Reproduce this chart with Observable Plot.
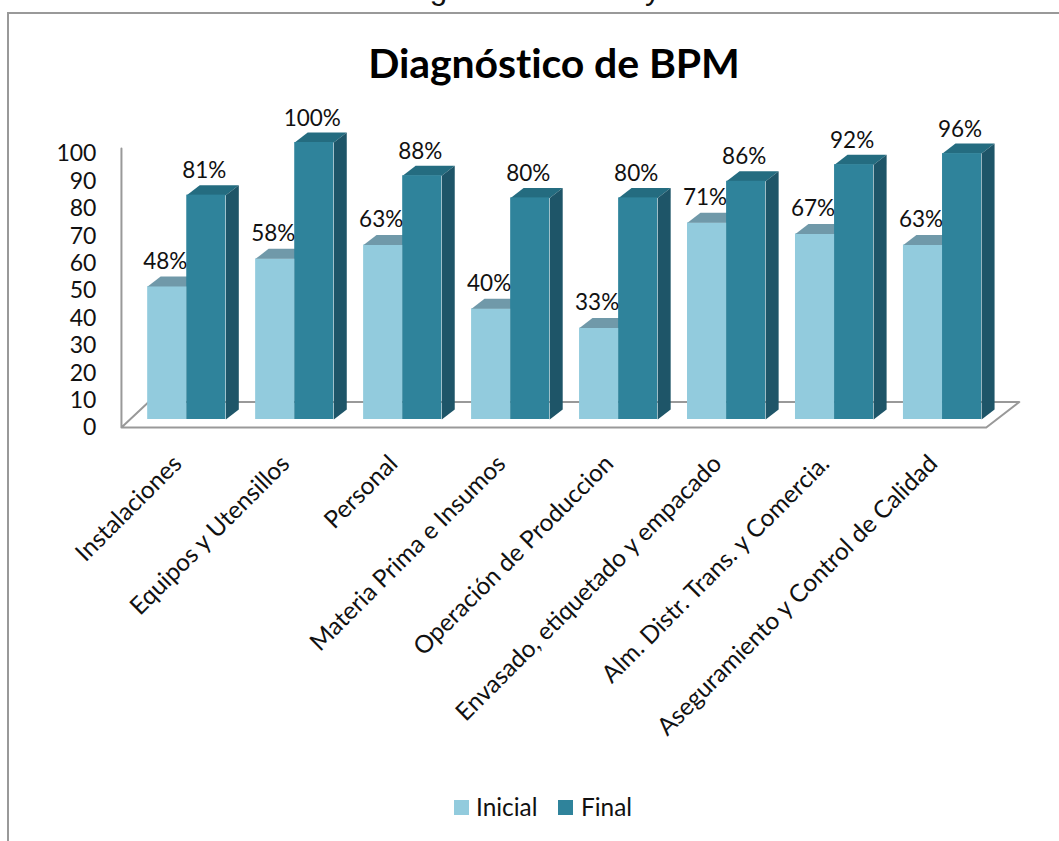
<!DOCTYPE html>
<html lang="es">
<head>
<meta charset="utf-8">
<title>Diagnóstico de BPM</title>
<style>
  html, body { margin: 0; background: #fff; overflow: hidden; }
  #page { position: relative; width: 1059px; height: 841px; overflow: hidden; font-family: Lato, sans-serif; color: #111; }
  #page svg { position: absolute; left: 0; top: 0; }
  #caption { position: absolute; left: 222px; top: -28px; font: 31.5px/32px "Liberation Sans", sans-serif; white-space: nowrap; }
  #caption span { margin-left: 38px; }
  #frame { position: absolute; left: 7px; top: 12px; right: -4px; bottom: -4px; border-left: 2.5px solid #999; border-top: 2.5px solid #999; }
  #title { position: absolute; left: 0; width: 1108px; top: 33px; text-align: center; font-size: 41px; line-height: 60px; font-weight: 700; letter-spacing: -0.1px; color: #000; }
  .key { position: absolute; top: 794px; font-size: 24.4px; line-height: 26px; }
  .key i { position: absolute; top: 6px; width: 15px; height: 15px; }
</style>
<script src="https://cdn.jsdelivr.net/npm/d3@7"></script>
<script src="https://cdn.jsdelivr.net/npm/@observablehq/plot@0.6"></script>
</head>
<body>
<div id="page">
  <div id="caption">Gráfico 11: Diagnóstico Inicial y <span>Final</span></div>
  <div id="frame"></div>
  <div id="title">Diagnóstico de BPM</div>
  <div id="chart"></div>
  <div class="key" style="left:476px"><i style="left:-22px;background:#92cbdd"></i>Inicial</div>
  <div class="key" style="left:581px"><i style="left:-23px;background:#2f839b"></i>Final</div>
</div>
<script>
const categories = [
  "Instalaciones",
  "Equipos y Utensillos",
  "Personal",
  "Materia Prima e Insumos",
  "Operación de Produccion",
  "Envasado, etiquetado y empacado",
  "Alm. Distr. Trans. y Comercia.",
  "Aseguramiento y Control de Calidad"
];
const inicial = [48, 58, 63, 40, 33, 71, 67, 63];
const final = [81, 100, 88, 80, 80, 86, 92, 96];
const yTicks = [0, 10, 20, 30, 40, 50, 60, 70, 80, 90, 100];

// Extrusion of the bars and size of the floor, in category and percent units.
const barWidth = 0.362;
const depthX = 0.12;
const depthY = 3.6;
const floorFront = -2.9;
const floorBack = 6.3;
const floorLeft = -0.605;
const floorRight = 7.405;
const wallTop = 97.8;

const colors = {
  inicial: { front: "#92cbdd", top: "#7099a9" },
  final: { front: "#2f839b", top: "#246c80", side: "#1e5568" }
};

const rows = (values, x0) => values.map((v, i) => ({ i, v, left: i + x0, right: i + x0 + barWidth }));
const rowsInicial = rows(inicial, -barWidth);
const rowsFinal = rows(final, 0);

// Parallelograms that give each bar its top and side faces.
const topFace = (rs) => rs.flatMap((r) => [
  { k: r.i, x: r.left, y: r.v },
  { k: r.i, x: r.right, y: r.v },
  { k: r.i, x: r.right + depthX, y: r.v + depthY },
  { k: r.i, x: r.left + depthX, y: r.v + depthY }
]);
const sideFace = (rs) => rs.flatMap((r) => [
  { k: r.i, x: r.right, y: 0 },
  { k: r.i, x: r.right + depthX, y: depthY },
  { k: r.i, x: r.right + depthX, y: r.v + depthY },
  { k: r.i, x: r.right, y: r.v }
]);

const face = (points, fill) => Plot.line(points, { x: "x", y: "y", z: "k", fill, stroke: null });

const floor = [
  { x: floorLeft, y: wallTop },
  { x: floorLeft, y: floorFront },
  { x: floorRight, y: floorFront },
  { x: floorRight + depthX * 2.55, y: floorBack },
  { x: floorLeft + depthX * 2.1, y: floorBack },
  { x: floorLeft, y: floorFront }
];

const chart = Plot.plot({
  width: 1059,
  height: 841,
  margin: 0,
  style: { background: "transparent", fontFamily: "Lato, sans-serif" },
  x: { type: "linear", domain: [-1, 8], range: [78.3, 1050], axis: null },
  y: { type: "linear", domain: [0, 100], range: [419, 142], axis: null },
  marks: [
    Plot.line(floor, { x: "x", y: "y", stroke: "#999", strokeWidth: 2 }),

    // Scale values, slightly tighter than the bars because they sit on the back wall.
    Plot.text(yTicks, {
      x: floorLeft,
      y: (d) => d * 0.99 - 2.2,
      text: (d) => String(d),
      textAnchor: "end",
      dx: -25,
      dy: 2.5,
      fontSize: 23,
      fill: "#111"
    }),

    // Initial series
    Plot.rect(rowsInicial, { x1: "left", x2: "right", y1: 0, y2: "v", fill: colors.inicial.front }),
    face(topFace(rowsInicial), colors.inicial.top),

    // Final series
    face(topFace(rowsFinal), colors.final.top),
    face(sideFace(rowsFinal), colors.final.side),
    Plot.rect(rowsFinal, { x1: "left", x2: "right", y1: 0, y2: "v", fill: colors.final.front }),

    // Percent labels above the bars
    Plot.text(rowsInicial, {
      x: (r) => r.left + barWidth / 2, y: "v", text: (r) => `${r.v}%`,
      dx: -2, dy: -25, fontSize: 22.5, fill: "#111"
    }),
    Plot.text(rowsFinal, {
      x: (r) => r.left + barWidth / 2, y: "v", text: (r) => `${r.v}%`,
      dx: -2, dy: -24, fontSize: 22.5, fill: "#111"
    }),

    // Category names, slanted under the floor
    Plot.text(categories, {
      x: (d, i) => i - 0.085,
      y: -14.5,
      text: (d) => d,
      rotate: -45,
      textAnchor: "end",
      lineAnchor: "middle",
      fontSize: 24.4,
      fill: "#111"
    })
  ]
});

document.getElementById("chart").append(chart);
</script>
</body>
</html>
